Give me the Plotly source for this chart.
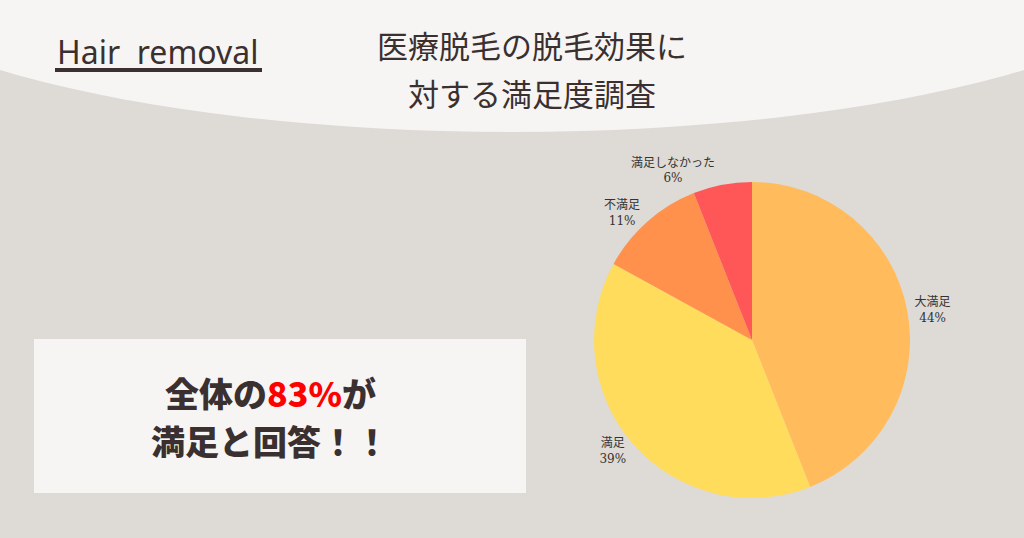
import plotly.graph_objects as go

# survey data
labels = ["大満足", "満足", "不満足", "満足しなかった"]
shares = [44, 39, 11, 6]
colors = ["#FFBB5C", "#FFDC5C", "#FF914D", "#FF5757"]

title_lines = ["医療脱毛の脱毛効果に", "対する満足度調査"]
tag_text = "Hair  removal"
message_lines = ["全体の<span style='color:#FF0000'>83%</span>が", "満足と回答！！"]

W, H = 1024, 538
bg = "#DEDAD5"
light = "#F6F5F3"
ink = "#3B3030"

fig = go.Figure()

fig.add_trace(go.Pie(
    labels=labels,
    values=shares,
    sort=False,
    direction="clockwise",
    rotation=0,
    marker=dict(colors=colors, line=dict(width=0)),
    textposition="outside",
    texttemplate="%{label}<br>%{value}%",
    textfont=dict(family="DejaVu Serif, Noto Sans CJK JP", size=12, color="#333333"),
    hoverinfo="label+percent",
    showlegend=False,
    domain=dict(x=[(752 - 158) / W, (752 + 158) / W], y=[40 / H, 356 / H]),
))

# big light ellipse at the top
fig.add_shape(type="circle", xref="paper", yref="paper",
              x0=-188 / W, x1=1212 / W, y0=1 - 132 / H, y1=1 + 258 / H,
              fillcolor=light, line=dict(width=0), layer="below")

# message box
fig.add_shape(type="rect", xref="paper", yref="paper",
              x0=34 / W, x1=526 / W, y0=1 - 493 / H, y1=1 - 339 / H,
              fillcolor=light, line=dict(width=0), layer="below")

# underline under the tag
fig.add_shape(type="line", xref="paper", yref="paper",
              x0=55 / W, x1=262 / W, y0=1 - 70 / H, y1=1 - 70 / H,
              line=dict(color=ink, width=4))

fig.add_annotation(text=tag_text, xref="paper", yref="paper",
                   x=158 / W, y=1 - 51 / H, showarrow=False,
                   xanchor="center", yanchor="middle",
                   font=dict(family="Noto Sans, sans-serif", size=32, color=ink))

for i, line in enumerate(title_lines):
    fig.add_annotation(text=line, xref="paper", yref="paper",
                       x=532 / W, y=1 - (45 + 47 * i) / H, showarrow=False,
                       xanchor="center", yanchor="middle",
                       font=dict(family="Noto Sans CJK JP", size=31, color=ink))

for i, line in enumerate(message_lines):
    fig.add_annotation(text=line, xref="paper", yref="paper",
                       x=270 / W, y=1 - (392 + 48 * i) / H, showarrow=False,
                       xanchor="center", yanchor="middle",
                       font=dict(family="Noto Sans CJK JP", size=34, color=ink, weight=900))

fig.update_layout(
    width=W, height=H,
    margin=dict(l=0, r=0, t=0, b=0),
    paper_bgcolor=bg,
    plot_bgcolor=bg,
)

fig.write_html("out.html", config={"displayModeBar": False},
               post_script="document.body.style.margin='0';")
